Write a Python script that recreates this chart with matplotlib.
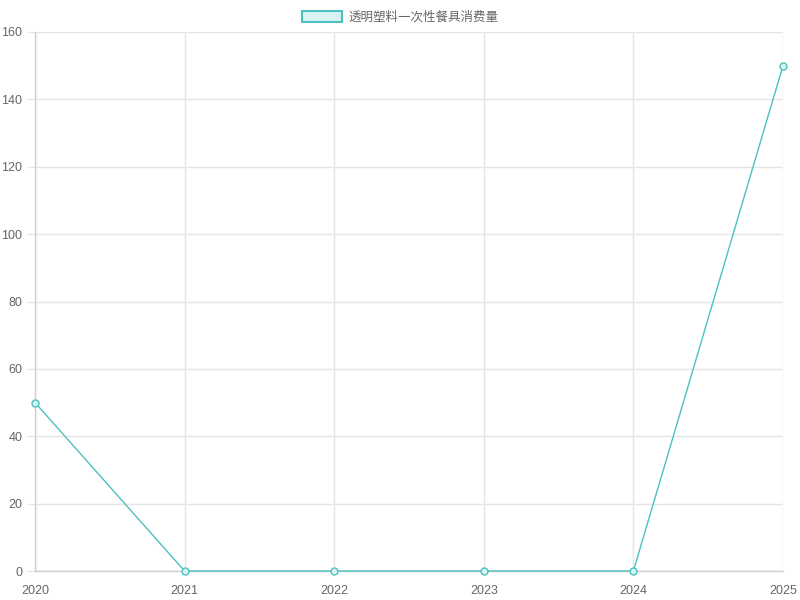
import matplotlib.pyplot as plt
from matplotlib.patches import Patch

plt.rcParams['font.family'] = ['Liberation Sans', 'Noto Sans CJK SC', 'DejaVu Sans']

years = ["2020", "2021", "2022", "2023", "2024", "2025"]
values = [50, 0, 0, 0, 0, 150]
label = "透明塑料一次性餐具消费量"

line_color = "#4bc0c0"
fill_color = "#dbf2f2"
grid_color = "#e5e5e5"

fig = plt.figure(figsize=(8, 6), dpi=100)
ax = fig.add_axes([35/800, 1 - 571/600, 748/800, 539/600])

x = list(range(len(years)))
ax.plot(x, values, color=line_color, linewidth=1, marker="o", markersize=5,
        markerfacecolor=fill_color, markeredgecolor=line_color, markeredgewidth=1,
        clip_on=False, zorder=3)

ax.set_xlim(0, len(years) - 1)
ax.set_ylim(0, 160)
ax.set_xticks(x)
ax.set_xticklabels(years)
ax.set_yticks(range(0, 161, 20))

ax.grid(True, color=grid_color, linewidth=1)
ax.set_axisbelow(True)
for side in ["top", "right"]:
    ax.spines[side].set_visible(False)
for side in ["left", "bottom"]:
    ax.spines[side].set_color("#d0d0d0")
    ax.spines[side].set_linewidth(1)

ax.tick_params(axis="y", length=6, color=grid_color, labelsize=9, labelcolor="#666666", pad=3)
ax.tick_params(axis="x", length=0, labelsize=9, labelcolor="#666666", pad=10)

handle = Patch(facecolor=fill_color, edgecolor=line_color, linewidth=1.5)
fig.legend([handle], [label], loc="upper center", bbox_to_anchor=(0.5, 1.0),
           frameon=False, fontsize=9, labelcolor="#666666",
           handlelength=3.2, handleheight=0.9, handletextpad=0.5, borderaxespad=0.5)

fig.savefig("out.png", dpi=100)
